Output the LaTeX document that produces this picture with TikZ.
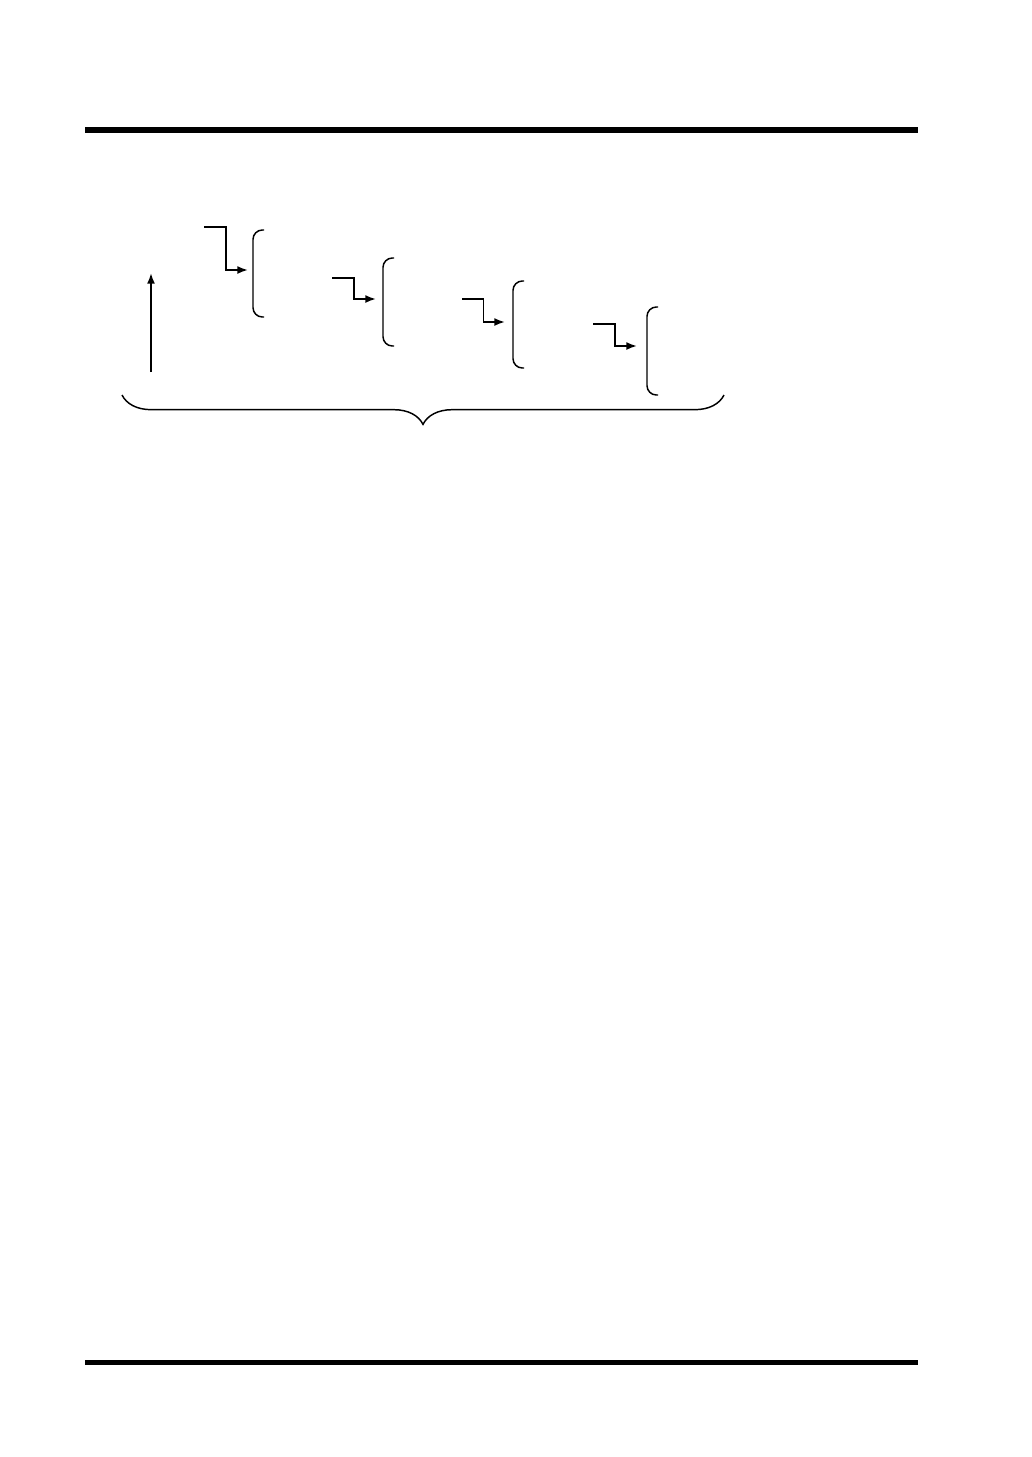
\documentclass[tikz,border=0pt]{standalone}
\usepackage{tikz}
\usetikzlibrary{arrows.meta, calc, decorations.pathreplacing}
\tikzstyle{rule} = [draw, line width=4.3pt]
\tikzstyle{bracket} = [draw, line width=1.1pt, rounded corners=7pt]
\tikzstyle{line} = [draw, line width=1.4pt, -{Latex[length=8pt, width=6pt]}]
\tikzstyle{brace} = [draw, line width=1.1pt, decorate, decoration={brace, mirror, amplitude=22pt}]

\begin{document}
\begin{tikzpicture}[x=0.75pt, y=-0.75pt]
	\useasboundingbox (0,0) rectangle (1032,1457);
	
	% Place coordinates
	\coordinate (Rule Top L) at (85,130);		\coordinate (Rule Top R) at (918,130);
	\coordinate (Rule Bot L) at (85,1362.5);	\coordinate (Rule Bot R) at (918,1362.5);
	\coordinate (Up Start) at (151,372);		\coordinate (Up End) at (151,273);
	\coordinate (S1) at (204,227);	\coordinate (T1) at (248,270);	\coordinate (B1 top) at (253,230);	\coordinate (B1 bot) at (253,317);
	\coordinate (S2) at (332,278);	\coordinate (T2) at (376,299);	\coordinate (B2 top) at (383,258);	\coordinate (B2 bot) at (383,346);
	\coordinate (S3) at (462,299);	\coordinate (T3) at (505,322);	\coordinate (B3 top) at (513,281);	\coordinate (B3 bot) at (513,368);
	\coordinate (S4) at (593,324);	\coordinate (T4) at (637,346);	\coordinate (B4 top) at (647,307);	\coordinate (B4 bot) at (647,395);
	\coordinate (Brace L) at (122,395);		\coordinate (Brace R) at (724,395);
	
	%Draw rules
	\path [rule] (Rule Top L) -- (Rule Top R);
	\path [rule] (Rule Bot L) -- (Rule Bot R);
	
	%Draw brackets
	\path [bracket] ($(B1 top)+(11,0)$) -- (B1 top) -- (B1 bot) -- ++(11,0);
	\path [bracket] ($(B2 top)+(11,0)$) -- (B2 top) -- (B2 bot) -- ++(11,0);
	\path [bracket] ($(B3 top)+(11,0)$) -- (B3 top) -- (B3 bot) -- ++(11,0);
	\path [bracket] ($(B4 top)+(11,0)$) -- (B4 top) -- (B4 bot) -- ++(11,0);
	
	%Draw edges
	\path [line] (Up Start) -- (Up End);
	\path [line] (S1) -| ($(S1)!0.5!(T1)$) |- (T1);
	\path [line] (S2) -| ($(S2)!0.5!(T2)$) |- (T2);
	\path [line] (S3) -| ($(S3)!0.5!(T3)$) |- (T3);
	\path [line] (S4) -| ($(S4)!0.5!(T4)$) |- (T4);
	
	\path [brace] (Brace L) -- (Brace R);
	
\end{tikzpicture}
\end{document}
